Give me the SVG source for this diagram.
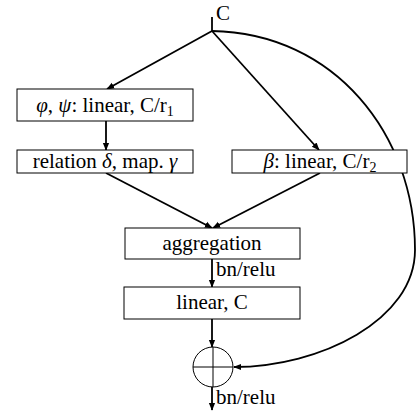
<svg xmlns="http://www.w3.org/2000/svg" width="416" height="417" viewBox="0 0 416 417">
<style>
text{font-family:"Liberation Serif","Times New Roman","DejaVu Serif",serif;font-size:21px;fill:#000}
.box{fill:#fff;stroke:#000;stroke-width:1}
.ln{fill:none;stroke:#000;stroke-width:1.8}
.g{font-style:italic}
.sub{font-size:14px}
</style>
<defs>
<marker id="ah" viewBox="0 0 10 10" refX="9" refY="5" markerWidth="8" markerHeight="8" markerUnits="userSpaceOnUse" orient="auto">
<path d="M0,1 L10,5 L0,9 z" fill="#000"/>
</marker>
</defs>
<g id="connectors">
<line class="ln" x1="212" y1="17" x2="212" y2="31"/>
<line class="ln" x1="212" y1="31" x2="107" y2="89" marker-end="url(#ah)"/>
<line class="ln" x1="212" y1="31" x2="319" y2="150" marker-end="url(#ah)"/>
<path class="ln" d="M212,31 C335,33 415,135 415,250 C415,320 320,367 234,367" marker-end="url(#ah)"/>
<line class="ln" x1="106" y1="121" x2="106" y2="150" marker-end="url(#ah)"/>
<line class="ln" x1="106" y1="173" x2="212" y2="228" marker-end="url(#ah)"/>
<line class="ln" x1="320" y1="173" x2="213" y2="228" marker-end="url(#ah)"/>
<line class="ln" x1="212" y1="259" x2="212" y2="287" marker-end="url(#ah)"/>
<line class="ln" x1="212" y1="319" x2="212" y2="347" marker-end="url(#ah)"/>
<line class="ln" x1="212" y1="387" x2="212" y2="410" marker-end="url(#ah)"/>
</g>
<g id="label-C"><text x="216" y="20" font-size="19">C</text></g>
<g id="node-phipsi">
<rect class="box" x="17" y="89" width="176" height="32"/>
<text x="105" y="112" text-anchor="middle"><tspan class="g">φ</tspan>, <tspan class="g">ψ</tspan>: linear, C/r<tspan class="sub" dy="4">1</tspan></text>
</g>
<g id="node-relation">
<rect class="box" x="17" y="150" width="176" height="23"/>
<text x="105" y="168" text-anchor="middle">relation <tspan class="g">δ</tspan>, map. <tspan class="g">γ</tspan></text>
</g>
<g id="node-beta">
<rect class="box" x="232" y="150" width="175" height="23"/>
<text x="320" y="168" text-anchor="middle"><tspan class="g">β</tspan>: linear, C/r<tspan class="sub" dy="4">2</tspan></text>
</g>
<g id="node-aggregation">
<rect class="box" x="125" y="228" width="175" height="31"/>
<text x="212" y="250" text-anchor="middle">aggregation</text>
</g>
<text x="216" y="276" font-size="20">bn/relu</text>
<g id="node-linear">
<rect class="box" x="124" y="287" width="176" height="32"/>
<text x="212" y="309" text-anchor="middle">linear, C</text>
</g>
<g id="node-sum">
<circle cx="213" cy="367" r="20" fill="#fff" stroke="#000" stroke-width="1"/>
<line x1="193" y1="367" x2="233" y2="367" stroke="#000" stroke-width="1"/>
<line x1="213" y1="347" x2="213" y2="387" stroke="#000" stroke-width="1"/>
</g>
<text x="216" y="404" font-size="20">bn/relu</text>
</svg>
